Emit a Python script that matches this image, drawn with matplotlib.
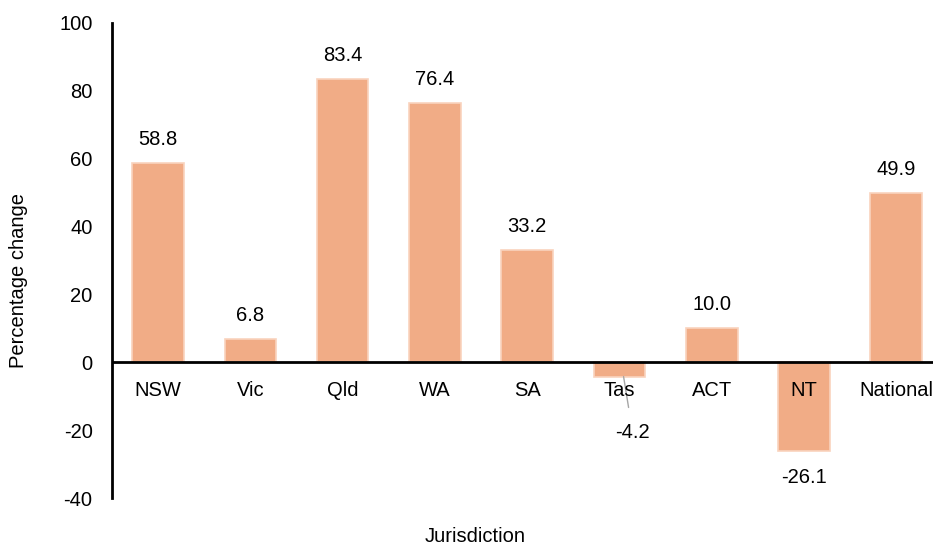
import matplotlib
matplotlib.use("Agg")
import matplotlib.pyplot as plt

categories = ["NSW", "Vic", "Qld", "WA", "SA", "Tas", "ACT", "NT", "National"]
values = [58.8, 6.8, 83.4, 76.4, 33.2, -4.2, 10.0, -26.1, 49.9]
yticks = [-40, -20, 0, 20, 40, 60, 80, 100]

plt.rcParams['font.family'] = ['Liberation Sans', 'DejaVu Sans']
FS = 14.5

fig = plt.figure(figsize=(9.33, 5.46), dpi=100)
ax = fig.add_axes([0.12, 0.0879, 0.89, 0.87])

x = list(range(len(categories)))
ax.bar(x, values, width=0.56, color="#F1AC86", edgecolor="#F9D3BE", linewidth=1.2, zorder=2)

ax.set_xlim(-0.5, len(categories) - 0.5)
ax.set_ylim(-40, 100)
ax.set_yticks(yticks)
ax.set_yticklabels([str(t) for t in yticks], fontsize=FS)
ax.tick_params(axis='y', length=0, pad=14)

for s in ["top", "right", "bottom"]:
    ax.spines[s].set_visible(False)
ax.spines["left"].set_linewidth(2)
ax.spines["left"].set_color("black")
ax.axhline(0, color="black", lw=2, zorder=3)

ax.set_xticks([])
for xi, c in zip(x, categories):
    ax.annotate(c, (xi, 0), xytext=(0, -20), textcoords="offset points",
                ha="center", va="center", fontsize=FS, zorder=4)

for xi, v, c in zip(x, values, categories):
    if c == "Tas":
        ax.annotate(f"{v:.1f}", xy=(xi + 0.045, v), xytext=(6.5, -40),
                    textcoords="offset points", ha="center", va="center", fontsize=FS,
                    arrowprops=dict(arrowstyle="-", color="#A6A6A6", lw=1,
                                    shrinkA=9, shrinkB=0))
    elif v >= 0:
        ax.annotate(f"{v:.1f}", (xi, v), xytext=(0, 17), textcoords="offset points",
                    ha="center", va="center", fontsize=FS)
    else:
        ax.annotate(f"{v:.1f}", (xi, v), xytext=(0, -19.5), textcoords="offset points",
                    ha="center", va="center", fontsize=FS)

fig.text(0.02, 0.486, "Percentage change", rotation=90, ha="center", va="center", fontsize=FS)
fig.text(0.509, 0.017, "Jurisdiction", ha="center", va="center", fontsize=FS)

fig.savefig("out.png", dpi=100)
